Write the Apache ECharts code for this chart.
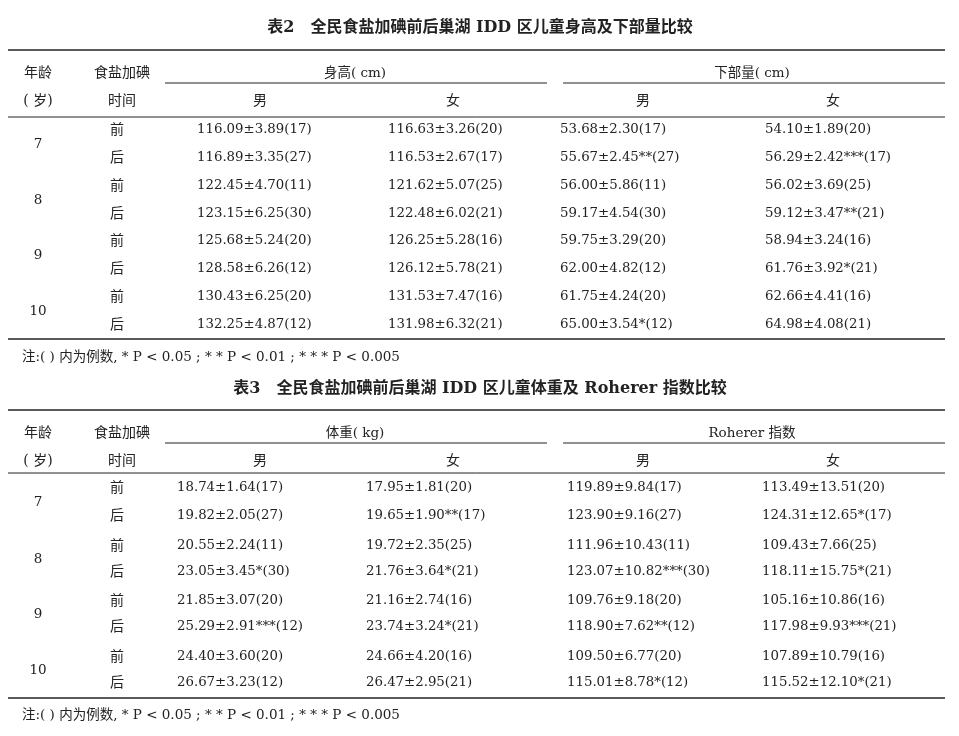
<!DOCTYPE html>
<html><head><meta charset="utf-8">
<script src="https://cdn.jsdelivr.net/npm/echarts@6/dist/echarts.min.js"></script>
<style>html,body{margin:0;padding:0;background:#fff}#c{width:959px;height:736px}</style>
</head><body><div id="c"></div>
<script>
const ages = ['7','8','9','10'];
const times = ['前','后'];
const t2Title = '表2　全民食盐加碘前后巢湖 IDD 区儿童身高及下部量比较';
const t2Groups = ['身高( cm)','下部量( cm)'];
const t2HeightMale = ['116.09±3.89(17)','116.89±3.35(27)','122.45±4.70(11)','123.15±6.25(30)','125.68±5.24(20)','128.58±6.26(12)','130.43±6.25(20)','132.25±4.87(12)'];
const t2HeightFemale = ['116.63±3.26(20)','116.53±2.67(17)','121.62±5.07(25)','122.48±6.02(21)','126.25±5.28(16)','126.12±5.78(21)','131.53±7.47(16)','131.98±6.32(21)'];
const t2LowerMale = ['53.68±2.30(17)','55.67±2.45**(27)','56.00±5.86(11)','59.17±4.54(30)','59.75±3.29(20)','62.00±4.82(12)','61.75±4.24(20)','65.00±3.54*(12)'];
const t2LowerFemale = ['54.10±1.89(20)','56.29±2.42***(17)','56.02±3.69(25)','59.12±3.47**(21)','58.94±3.24(16)','61.76±3.92*(21)','62.66±4.41(16)','64.98±4.08(21)'];
const t3Title = '表3　全民食盐加碘前后巢湖 IDD 区儿童体重及 Roherer 指数比较';
const t3Groups = ['体重( kg)','Roherer 指数'];
const t3WeightMale = ['18.74±1.64(17)','19.82±2.05(27)','20.55±2.24(11)','23.05±3.45*(30)','21.85±3.07(20)','25.29±2.91***(12)','24.40±3.60(20)','26.67±3.23(12)'];
const t3WeightFemale = ['17.95±1.81(20)','19.65±1.90**(17)','19.72±2.35(25)','21.76±3.64*(21)','21.16±2.74(16)','23.74±3.24*(21)','24.66±4.20(16)','26.47±2.95(21)'];
const t3RohMale = ['119.89±9.84(17)','123.90±9.16(27)','111.96±10.43(11)','123.07±10.82***(30)','109.76±9.18(20)','118.90±7.62**(12)','109.50±6.77(20)','115.01±8.78*(12)'];
const t3RohFemale = ['113.49±13.51(20)','124.31±12.65*(17)','109.43±7.66(25)','118.11±15.75*(21)','105.16±10.86(16)','117.98±9.93***(21)','107.89±10.79(16)','115.52±12.10*(21)'];
const note = '注:( ) 内为例数, * P < 0.05 ; * * P < 0.01 ; * * * P < 0.005';

const FONT = '"DejaVu Serif","Noto Sans CJK SC",serif';
const els = [];
function txt(x,y,s,align,size,bold){els.push({type:'text',x:x,y:y,style:{text:s,font:(bold?'bold ':'')+(size||14)+'px '+FONT,fill:'#222',textAlign:align||'center',textVerticalAlign:'middle'}});}
function line(x1,y1,x2,y2,w){els.push({type:'line',shape:{x1:x1,y1:y1,x2:x2,y2:y2},style:{stroke:'#222',lineWidth:w||1}});}

function table(o){
  txt(480,o.titleY,o.title,'center',16,true);
  line(8,o.top,945,o.top,1.6);
  txt(38,o.top+23,'年龄');txt(122,o.top+23,'食盐加碘');
  txt(355,o.top+23,o.groups[0],'center',13.5);txt(752,o.top+23,o.groups[1],'center',13.5);
  line(165,o.top+33,547,o.top+33,1);line(563,o.top+33,945,o.top+33,1);
  txt(38,o.top+51,'( 岁)');txt(122,o.top+51,'时间');
  [260,453,643,833].forEach((x,i)=>txt(x,o.top+51,i%2?'女':'男'));
  line(8,o.hdrBottom,945,o.hdrBottom,1);
  for(let r=0;r<8;r++){
    const y=o.rowY[r];
    txt(117,y,times[r%2]);
    o.cols.forEach((c,i)=>txt(o.colX[i],y,c[r],'left',13.3));
    if(r%2===0) txt(38,(y+o.rowY[r+1])/2,ages[r/2],'center',13.5);
  }
  line(8,o.bottom,945,o.bottom,1.6);
  txt(22,o.noteY,note,'left',13.5);
}
table({title:t2Title,titleY:28,top:50,groups:t2Groups,hdrBottom:117,rowY:[130,158,186,214,241,269,297,325],
  cols:[t2HeightMale,t2HeightFemale,t2LowerMale,t2LowerFemale],colX:[197,388,560,765],bottom:339,noteY:357});
table({title:t3Title,titleY:389,top:410,groups:t3Groups,hdrBottom:473,rowY:[488,516,546,572,601,627,657,683],
  cols:[t3WeightMale,t3WeightFemale,t3RohMale,t3RohFemale],colX:[177,366,567,762],bottom:698,noteY:715});

const chart = echarts.init(document.getElementById('c'));
chart.setOption({backgroundColor:'#fff',graphic:els});
</script></body></html>
